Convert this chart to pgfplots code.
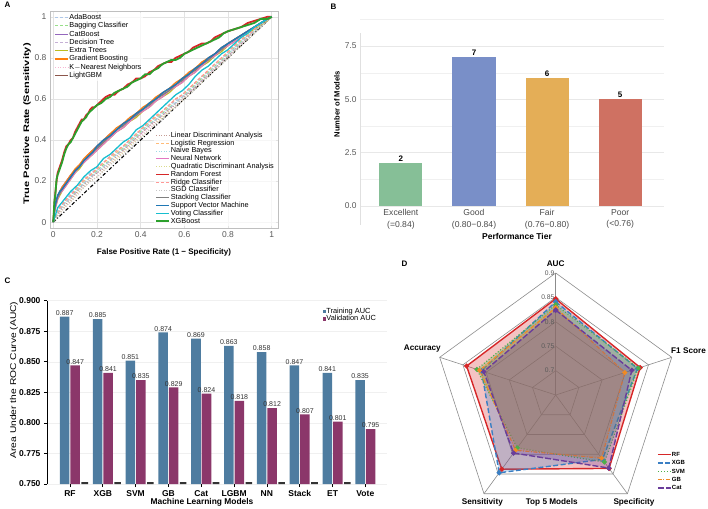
\documentclass[border=0pt]{standalone}
\usepackage{fontspec}
\setmainfont{Liberation Sans}
\usepackage{pgfplots}
\pgfplotsset{compat=1.18}
\usepackage{pgfplotstable}
\usepgfplotslibrary{polar}
\pgfkeys{/pgf/number format/assume math mode=true}

\definecolor{cAda}{HTML}{AEC7E8}
\definecolor{cBag}{HTML}{98DF8A}
\definecolor{cCat}{HTML}{9467BD}
\definecolor{cDT}{HTML}{C5B0D5}
\definecolor{cET}{HTML}{BCBD22}
\definecolor{cGB}{HTML}{FF7F0E}
\definecolor{cKNN}{HTML}{F7B6D2}
\definecolor{cLGBM}{HTML}{8C564B}
\definecolor{cLDA}{HTML}{C49C94}
\definecolor{cLR}{HTML}{FFBB78}
\definecolor{cNB}{HTML}{9EDAE5}
\definecolor{cNN}{HTML}{E377C2}
\definecolor{cQDA}{HTML}{DBDB8D}
\definecolor{cRF}{HTML}{D62728}
\definecolor{cRidge}{HTML}{FF9896}
\definecolor{cSGD}{HTML}{C7C7C7}
\definecolor{cStack}{HTML}{7F7F7F}
\definecolor{cSVM}{HTML}{1F77B4}
\definecolor{cVote}{HTML}{17BECF}
\definecolor{cXGB}{HTML}{2CA02C}
\definecolor{bEx}{HTML}{86BF97}
\definecolor{bGood}{HTML}{798FC8}
\definecolor{bFair}{HTML}{E4AE57}
\definecolor{bPoor}{HTML}{CF7162}
\definecolor{cTrain}{HTML}{4E7CA0}
\definecolor{cVal}{HTML}{8B376A}
\definecolor{rRF}{HTML}{D62728}
\definecolor{rXGB}{HTML}{3A7FC4}
\definecolor{rSVM}{HTML}{4DAF4A}
\definecolor{rGB}{HTML}{F08A24}
\definecolor{rCat}{HTML}{6A3D9A}

\pgfplotstableread{
x rf xgb
0 0 0
0.005 0.08 0.10
0.01 0.15 0.14
0.015 0.20 0.21
0.02 0.24 0.23
0.03 0.27 0.26
0.04 0.30 0.29
0.05 0.34 0.33
0.06 0.37 0.36
0.07 0.38 0.38
0.08 0.40 0.39
0.09 0.41 0.41
0.10 0.44 0.43
0.11 0.46 0.45
0.12 0.48 0.47
0.13 0.50 0.49
0.14 0.50 0.50
0.15 0.52 0.51
0.16 0.53 0.53
0.17 0.55 0.54
0.18 0.56 0.55
0.19 0.56 0.56
0.20 0.57 0.57
0.22 0.59 0.58
0.24 0.61 0.60
0.26 0.62 0.61
0.28 0.62 0.63
0.30 0.64 0.64
0.32 0.65 0.65
0.34 0.67 0.66
0.36 0.68 0.68
0.38 0.70 0.69
0.40 0.70 0.70
0.42 0.71 0.72
0.44 0.73 0.72
0.46 0.74 0.74
0.48 0.76 0.75
0.50 0.77 0.77
0.52 0.78 0.78
0.54 0.78 0.79
0.56 0.80 0.79
0.58 0.81 0.80
0.60 0.82 0.82
0.62 0.83 0.83
0.64 0.85 0.84
0.66 0.86 0.85
0.68 0.87 0.86
0.70 0.87 0.87
0.72 0.88 0.88
0.74 0.90 0.89
0.76 0.91 0.90
0.78 0.92 0.92
0.80 0.93 0.93
0.83 0.94 0.94
0.86 0.95 0.95
0.89 0.97 0.96
0.92 0.98 0.97
0.95 0.99 0.99
0.98 1.00 0.99
1.00 1.00 1.00
}\toptab

\pgfplotstableread{
x cat et gb lgbm nn stack svm
0 0 0 0 0 0 0 0
0.005 .06 .04 .05 .05 .04 .05 .06
0.01 .09 .07 .08 .08 .07 .08 .09
0.02 .13 .11 .12 .12 .11 .12 .13
0.03 .15 .13 .15 .14 .14 .14 .15
0.04 .17 .15 .17 .16 .15 .16 .16
0.06 .20 .18 .20 .19 .18 .19 .19
0.08 .23 .21 .23 .22 .21 .22 .22
0.10 .25 .24 .26 .25 .24 .25 .25
0.12 .28 .26 .28 .27 .27 .27 .27
0.14 .30 .29 .31 .30 .29 .30 .30
0.16 .33 .31 .33 .32 .31 .32 .32
0.18 .35 .33 .35 .34 .33 .34 .34
0.20 .37 .35 .37 .36 .35 .36 .37
0.23 .40 .38 .40 .39 .38 .39 .40
0.26 .43 .41 .43 .42 .41 .42 .42
0.29 .45 .44 .46 .45 .44 .45 .45
0.32 .48 .46 .48 .47 .46 .47 .48
0.35 .50 .49 .51 .50 .49 .50 .50
0.38 .53 .51 .53 .52 .52 .52 .53
0.41 .55 .54 .56 .55 .54 .55 .55
0.44 .58 .56 .58 .57 .56 .57 .58
0.47 .60 .59 .61 .60 .59 .60 .60
0.50 .63 .61 .63 .62 .61 .62 .63
0.53 .65 .63 .65 .64 .64 .64 .65
0.56 .67 .66 .68 .67 .66 .67 .67
0.59 .70 .68 .70 .69 .68 .69 .70
0.62 .72 .71 .73 .72 .71 .72 .72
0.65 .75 .73 .75 .74 .73 .74 .75
0.68 .77 .76 .78 .77 .76 .77 .77
0.71 .80 .78 .80 .79 .79 .79 .80
0.74 .82 .81 .82 .82 .81 .82 .82
0.77 .85 .83 .85 .84 .84 .84 .85
0.80 .87 .86 .87 .87 .86 .87 .87
0.83 .89 .88 .89 .89 .88 .89 .89
0.86 .91 .90 .91 .91 .90 .91 .91
0.89 .93 .92 .93 .93 .93 .93 .93
0.92 .95 .94 .95 .95 .95 .95 .95
0.95 .97 .96 .97 .97 .97 .97 .97
0.98 .99 .98 .99 .99 .99 .99 .99
1 1 1 1 1 1 1 1
}\midtab

\pgfplotstableread{
x ada bag dt knn lda lr nb qda ridge sgd vote
0 0 0 0 0 0 0 0 0 0 0 0
0.02 .06 .05 .04 .03 .04 .05 .05 .03 .06 .03 .07
0.05 .10 .09 .09 .07 .08 .10 .09 .07 .10 .07 .11
0.08 .14 .12 .12 .10 .11 .13 .12 .10 .13 .10 .15
0.11 .17 .16 .15 .14 .15 .17 .16 .14 .17 .13 .18
0.14 .20 .19 .19 .17 .18 .20 .19 .17 .21 .17 .22
0.17 .24 .22 .22 .20 .21 .23 .22 .20 .23 .20 .25
0.20 .26 .25 .24 .22 .24 .26 .25 .22 .26 .22 .27
0.23 .29 .28 .27 .25 .26 .29 .27 .25 .29 .25 .31
0.26 .32 .30 .30 .28 .29 .31 .30 .28 .32 .28 .33
0.29 .34 .33 .33 .31 .32 .34 .33 .31 .35 .30 .36
0.32 .37 .36 .35 .34 .35 .37 .36 .34 .37 .33 .39
0.35 .40 .39 .38 .37 .38 .40 .39 .37 .40 .36 .41
0.38 .43 .42 .41 .40 .41 .43 .42 .40 .43 .39 .45
0.41 .46 .45 .44 .43 .44 .46 .45 .42 .46 .42 .47
0.44 .49 .48 .47 .46 .47 .49 .48 .45 .49 .45 .50
0.47 .51 .50 .50 .48 .49 .51 .50 .48 .52 .48 .53
0.50 .54 .53 .52 .51 .52 .54 .53 .51 .54 .50 .56
0.53 .57 .56 .55 .54 .55 .57 .56 .54 .57 .53 .59
0.56 .59 .58 .58 .56 .57 .60 .58 .56 .60 .56 .62
0.59 .62 .61 .61 .59 .60 .62 .61 .59 .62 .59 .64
0.62 .65 .64 .63 .62 .63 .65 .64 .62 .65 .62 .67
0.65 .68 .67 .66 .65 .66 .68 .67 .65 .68 .65 .71
0.68 .71 .70 .69 .68 .69 .71 .70 .68 .71 .68 .74
0.71 .74 .73 .72 .71 .72 .74 .73 .71 .74 .71 .76
0.74 .77 .76 .75 .74 .75 .77 .76 .74 .77 .74 .79
0.77 .80 .79 .78 .77 .78 .80 .79 .77 .80 .77 .82
0.80 .82 .82 .81 .80 .81 .83 .82 .80 .83 .80 .84
0.83 .85 .85 .84 .83 .84 .86 .85 .83 .86 .83 .87
0.86 .88 .88 .87 .86 .87 .89 .88 .86 .89 .86 .90
0.89 .91 .91 .90 .89 .90 .91 .91 .89 .91 .89 .92
0.92 .94 .93 .93 .92 .93 .94 .93 .92 .94 .92 .95
0.95 .96 .96 .96 .95 .96 .97 .96 .95 .97 .95 .97
0.98 .99 .99 .98 .98 .98 .99 .99 .98 .99 .98 .99
1 1 1 1 1 1 1 1 1 1 1 1
}\lowtab

\pgfplotsset{
  rocbase/.style={at={(50pt,279.7pt)}, anchor=south west, scale only axis,
    width=228.3pt, height=216.6pt, xmin=-0.015, xmax=1.03, ymin=-0.03, ymax=1.025,
    legend image code/.code={\draw[##1] (0pt,0pt) -- (13pt,0pt);},
    legend cell align=left,
    legend style={draw=none, fill=white, fill opacity=0.7, text opacity=1,
      font=\fontsize{7.3}{8}\selectfont, inner sep=1pt, row sep=0.3pt,
      nodes={inner sep=0.6pt, text height=5.3pt, text depth=1.5pt}}},
  dotl/.style={dash pattern=on 0.9pt off 1.6pt},
  dashl/.style={dash pattern=on 3pt off 2pt},
  sqleg/.style={legend image code/.code={\fill[##1] (0pt,-1.6pt) rectangle (3.4pt,1.8pt);}},
}

\begin{document}
\begin{tikzpicture}[x=1pt,y=1pt]
\useasboundingbox (0,0) rectangle (708,508);

% ---------------- Panel A ----------------
\begin{axis}[rocbase, legend style={at={(0.015,0.997)}, anchor=north west},
  xtick={0,0.2,0.4,0.6,0.8,1}, ytick={0,0.2,0.4,0.6,0.8,1},
  xticklabels={0,0.2,0.4,0.6,0.8,1}, yticklabels={0,0.2,0.4,0.6,0.8,1},
  grid=major, grid style={draw=black!11, line width=0.5pt},
  axis line style={draw=black!25, line width=0.6pt}, major tick length=0pt,
  ticklabel style={font=\fontsize{8.5}{10}\selectfont, text=black!65}]
\addplot[cAda, dashl, line width=1.1pt] table[x=x,y=ada]{\lowtab}; \addlegendentry{AdaBoost}
\addplot[cBag, dashl, line width=1.1pt] table[x=x,y=bag]{\lowtab}; \addlegendentry{Bagging Classifier}
\addplot[cCat, line width=1.2pt] table[x=x,y=cat]{\midtab}; \addlegendentry{CatBoost}
\addplot[cDT, dashl, line width=1.1pt] table[x=x,y=dt]{\lowtab}; \addlegendentry{Decision Tree}
\addplot[cET, line width=1.2pt] table[x=x,y=et]{\midtab}; \addlegendentry{Extra Trees}
\addplot[cGB, line width=1.2pt] table[x=x,y=gb]{\midtab}; \addlegendentry{Gradient Boosting}
\addplot[cKNN, dotl, line width=1.1pt] table[x=x,y=knn]{\lowtab}; \addlegendentry{K$-$Nearest Neighbors}
\addplot[cLGBM, line width=1.2pt] table[x=x,y=lgbm]{\midtab}; \addlegendentry{LightGBM}
\end{axis}

\begin{axis}[rocbase, hide axis, legend style={at={(0.4567,0.452)}, anchor=north west, row sep=0pt,
    nodes={inner sep=0.6pt, text height=5.2pt, text depth=1.4pt}}]
\addplot[black, line width=1.1pt, dash pattern=on 3.5pt off 2pt on 1pt off 2pt, forget plot] coordinates {(0,0) (1,1)};
\addplot[cLDA, dotl, line width=1.1pt] table[x=x,y=lda]{\lowtab}; \addlegendentry{Linear Discriminant Analysis}
\addplot[cLR, dashl, line width=1.1pt] table[x=x,y=lr]{\lowtab}; \addlegendentry{Logistic Regression}
\addplot[cNB, dotl, line width=1.1pt] table[x=x,y=nb]{\lowtab}; \addlegendentry{Naive Bayes}
\addplot[cNN, line width=1.2pt] table[x=x,y=nn]{\midtab}; \addlegendentry{Neural Network}
\addplot[cQDA, dotl, line width=1.1pt] table[x=x,y=qda]{\lowtab}; \addlegendentry{Quadratic Discriminant Analysis}
\addplot[cRF, line width=1.8pt] table[x=x,y=rf]{\toptab}; \addlegendentry{Random Forest}
\addplot[cRidge, dashl, line width=1.1pt] table[x=x,y=ridge]{\lowtab}; \addlegendentry{Ridge Classifier}
\addplot[cSGD, dotl, line width=1.1pt] table[x=x,y=sgd]{\lowtab}; \addlegendentry{SGD Classifier}
\addplot[cStack, line width=1.2pt] table[x=x,y=stack]{\midtab}; \addlegendentry{Stacking Classifier}
\addplot[cSVM, line width=1.4pt] table[x=x,y=svm]{\midtab}; \addlegendentry{Support Vector Machine}
\addplot[cVote, line width=1.3pt] table[x=x,y=vote]{\lowtab}; \addlegendentry{Voting Classifier}
\addplot[cXGB, line width=1.8pt] table[x=x,y=xgb]{\toptab}; \addlegendentry{XGBoost}
\end{axis}

\node[font=\bfseries\fontsize{8}{9}\selectfont] at (164,256) {False Positive Rate (1 − Specificity)};
\node[rotate=90, font=\bfseries\fontsize{8}{9}\selectfont] at (27,384) {\scalebox{1.38}[1]{True Positive Rate (Sensitivity)}};
\node[anchor=west, font=\bfseries\fontsize{8}{9}\selectfont] at (1,503) {A};

% ---------------- Panel B ----------------
\begin{axis}[at={(360pt,302pt)}, anchor=south west, scale only axis, width=304pt, height=187pt,
  xmin=-0.56, xmax=3.6, ymin=0, ymax=8.77, ybar, bar width=0.59,
  xtick={0,1,2,3},
  xticklabels={{Excellent\\(=0.84)},{Good\\(0.80−0.84)},{Fair\\(0.76−0.80)},{Poor\\(<0.76)}},
  ytick={0,2.5,5,7.5}, yticklabels={0.0,2.5,5.0,7.5}, minor ytick={1.25,3.75,6.25,8.75},
  ymajorgrids, yminorgrids, major grid style={draw=black!9, line width=0.5pt},
  minor grid style={draw=black!6, line width=0.4pt},
  axis line style={draw=none}, major tick length=0pt, minor tick length=0pt,
  xticklabel style={font=\fontsize{8.6}{11.3}\selectfont, text=black!70, align=center},
  yticklabel style={font=\fontsize{8.4}{10}\selectfont, text=black!65},
  clip=false,
  nodes near coords, nodes near coords style={font=\bfseries\fontsize{8}{9}\selectfont, text=black, anchor=south, inner sep=1.5pt}]
\draw[black!12, line width=0.6pt] (axis cs:-0.56,-0.89) -- (axis cs:-0.56,8.1);
\addplot[fill=bEx, draw=none, bar shift=0pt] coordinates {(0,2)};
\addplot[fill=bGood, draw=none, bar shift=0pt] coordinates {(1,7)};
\addplot[fill=bFair, draw=none, bar shift=0pt] coordinates {(2,6)};
\addplot[fill=bPoor, draw=none, bar shift=0pt] coordinates {(3,5)};
\end{axis}
\node[font=\bfseries\fontsize{8.5}{9}\selectfont] at (517,272) {Performance Tier};
\node[rotate=90, font=\bfseries\fontsize{7.6}{9}\selectfont] at (337,404) {Number of Models};
\node[anchor=west, font=\bfseries\fontsize{8}{9}\selectfont] at (327,501) {B};

% ---------------- Panel C ----------------
\begin{axis}[at={(47pt,24pt)}, anchor=south west, scale only axis, width=340pt, height=183.3pt,
  xmin=-0.70, xmax=9.66, ymin=0.75, ymax=0.9, ybar, bar width=0.29,
  xtick={0,1,2,3,4,5,6,7,8,9}, xticklabels={RF,XGB,SVM,GB,Cat,LGBM,NN,Stack,ET,Vote},
  ytick={0.75,0.775,0.8,0.825,0.85,0.875,0.9},
  yticklabels={0.750,0.775,0.800,0.825,0.850,0.875,0.900},
  axis lines*=left, x axis line style={draw=none}, y axis line style={draw=black, line width=0.8pt},
  tick style={draw=black, line width=0.7pt}, major tick length=3pt, tick align=outside,
  ymajorgrids, grid style={draw=black!6, line width=0.5pt},
  ticklabel style={font=\bfseries\fontsize{8.5}{10}\selectfont, text=black},
  legend style={at={(0.81,0.96)}, anchor=north west, draw=none, fill=none,
    font=\fontsize{7.4}{8}\selectfont, inner sep=0pt, row sep=0pt,
    nodes={inner sep=0.4pt, text height=5pt, text depth=1.4pt}},
  legend cell align=left]
\addplot[fill=cTrain, draw=none, bar shift=-0.16, sqleg,
  nodes near coords={\pgfmathprintnumber[fixed,fixed zerofill,precision=3]{\pgfplotspointmeta}},
  nodes near coords style={font=\fontsize{7}{8}\selectfont, text=black!80, anchor=south, inner sep=1pt}]
  coordinates {(0,0.887) (1,0.885) (2,0.851) (3,0.874) (4,0.869) (5,0.863) (6,0.858) (7,0.847) (8,0.841) (9,0.835)};
\addlegendentry{Training AUC}
\addplot[fill=cVal, draw=none, bar shift=0.16, sqleg,
  nodes near coords={\pgfmathprintnumber[fixed,fixed zerofill,precision=3]{\pgfplotspointmeta}},
  nodes near coords style={font=\fontsize{7}{8}\selectfont, text=black!80, anchor=south, inner sep=1pt}]
  coordinates {(0,0.847) (1,0.841) (2,0.835) (3,0.829) (4,0.824) (5,0.818) (6,0.812) (7,0.807) (8,0.801) (9,0.795)};
\addlegendentry{Validation AUC}
\addplot[fill=black!80, draw=none, bar shift=0.45, bar width=0.2, forget plot]
  coordinates {(0,0.7515) (1,0.7515) (2,0.7515) (3,0.7515) (4,0.7515) (5,0.7515) (6,0.7515) (7,0.7515) (8,0.7515)};
\end{axis}
\node[font=\bfseries\fontsize{8.4}{9}\selectfont] at (202,6) {Machine Learning Models};
\node[rotate=90, font=\fontsize{8.4}{9}\selectfont] at (14,128) {\scalebox{1.22}[1]{Area Under the ROC Curve (AUC)}};
\node[anchor=west, font=\bfseries\fontsize{8}{9}\selectfont] at (1,227) {C};

% ---------------- Panel D ----------------
\begin{polaraxis}[at={(555.7pt,113pt)}, anchor=center, scale only axis, width=244pt, height=244pt,
  ymin=0, ymax=0.25, hide axis, clip=false, y filter/.expression={y-0.65},
  legend style={at={(0.915,0.27)}, anchor=north west, draw=none, fill=none,
    font=\bfseries\fontsize{6}{7}\selectfont, inner sep=0pt, row sep=1.9pt,
    nodes={inner sep=0.4pt, text height=4.5pt, text depth=1.2pt}},
  legend image code/.code={\draw[#1, mark=none, fill=none] (0pt,0pt) -- (13pt,0pt);},
  legend cell align=left]
\addplot[black!45, line width=0.6pt, forget plot] coordinates {(90,0.7) (18,0.7) (-54,0.7) (-126,0.7) (-198,0.7) (-270,0.7)};
\addplot[black!45, line width=0.6pt, forget plot] coordinates {(90,0.75) (18,0.75) (-54,0.75) (-126,0.75) (-198,0.75) (-270,0.75)};
\addplot[black!45, line width=0.6pt, forget plot] coordinates {(90,0.8) (18,0.8) (-54,0.8) (-126,0.8) (-198,0.8) (-270,0.8)};
\addplot[black!45, line width=0.6pt, forget plot] coordinates {(90,0.85) (18,0.85) (-54,0.85) (-126,0.85) (-198,0.85) (-270,0.85)};
\addplot[black!45, line width=0.6pt, forget plot] coordinates {(90,0.9) (18,0.9) (-54,0.9) (-126,0.9) (-198,0.9) (-270,0.9)};
\addplot[black!45, line width=0.6pt, forget plot] coordinates {(90,0.65) (90,0.9)};
\addplot[black!45, line width=0.6pt, forget plot] coordinates {(18,0.65) (18,0.9)};
\addplot[black!45, line width=0.6pt, forget plot] coordinates {(-54,0.65) (-54,0.9)};
\addplot[black!45, line width=0.6pt, forget plot] coordinates {(-126,0.65) (-126,0.9)};
\addplot[black!45, line width=0.6pt, forget plot] coordinates {(-198,0.65) (-198,0.9)};
\addplot[rRF, line width=1.4pt, fill=rRF, fill opacity=0.28, mark=*, mark size=1.8pt, mark options={solid, fill=rRF, fill opacity=1}]
  coordinates {(90,0.847) (18,0.832) (-54,0.836) (-126,0.838) (-198,0.842) (-270,0.847)};
\addlegendentry{RF}
\addplot[rXGB, line width=1.4pt, dash pattern=on 5pt off 2.5pt, fill=rXGB, fill opacity=0.28, mark=*, mark size=1.8pt, mark options={solid, fill=rXGB, fill opacity=1}]
  coordinates {(90,0.841) (18,0.826) (-54,0.813) (-126,0.847) (-198,0.810) (-270,0.841)};
\addlegendentry{XGB}
\addplot[rSVM, line width=1.2pt, dash pattern=on 1pt off 2pt, fill=rSVM, fill opacity=0.28, mark=*, mark size=1.8pt, mark options={solid, fill=rSVM, fill opacity=1}]
  coordinates {(90,0.835) (18,0.828) (-54,0.820) (-126,0.784) (-198,0.820) (-270,0.835)};
\addlegendentry{SVM}
\addplot[rGB, line width=1.2pt, dash pattern=on 4pt off 1.5pt on 1pt off 1.5pt, fill=rGB, fill opacity=0.28, mark=*, mark size=1.8pt, mark options={solid, fill=rGB, fill opacity=1}]
  coordinates {(90,0.829) (18,0.799) (-54,0.810) (-126,0.790) (-198,0.814) (-270,0.829)};
\addlegendentry{GB}
\addplot[rCat, line width=1.4pt, dash pattern=on 6pt off 2pt, fill=rCat, fill opacity=0.28, mark=*, mark size=1.8pt, mark options={solid, fill=rCat, fill opacity=1}]
  coordinates {(90,0.824) (18,0.814) (-54,0.835) (-126,0.797) (-198,0.805) (-270,0.824)};
\addlegendentry{Cat}
\end{polaraxis}
\foreach \yy/\lab in {234.7/0.9, 210.6/0.85, 186.2/0.8, 161.8/0.75, 137.4/0.7}
  \node[anchor=east, font=\fontsize{6.7}{7}\selectfont, text=black!65, inner sep=0.5pt] at (555,\yy) {\lab};
\node[font=\bfseries\fontsize{8.2}{9}\selectfont] at (555.7,244.7) {AUC};
\node[anchor=west, font=\bfseries\fontsize{8.2}{9}\selectfont, inner sep=0pt] at (671,157.3) {F1 Score};
\node[anchor=east, font=\bfseries\fontsize{8.2}{9}\selectfont, inner sep=0pt] at (441,159) {Accuracy};
\node[font=\bfseries\fontsize{8.2}{9}\selectfont] at (482.3,5.7) {Sensitivity};
\node[font=\bfseries\fontsize{8.2}{9}\selectfont] at (634,6) {Specificity};
\node[font=\bfseries\fontsize{8.2}{9}\selectfont] at (551.7,6) {Top 5 Models};
\node[anchor=west, font=\bfseries\fontsize{8}{9}\selectfont] at (398,244) {D};
\end{tikzpicture}
\end{document}
